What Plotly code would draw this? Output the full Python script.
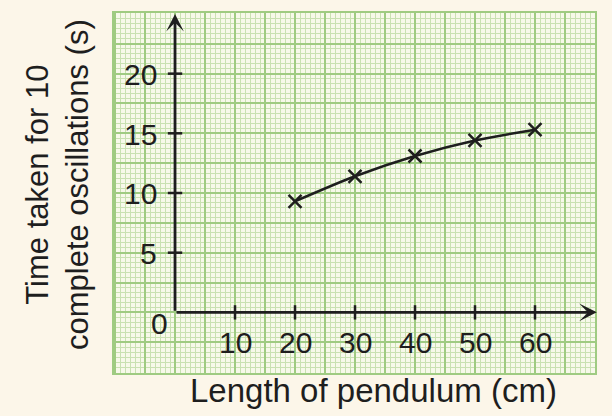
import plotly.graph_objects as go

# Data
lengths = [20, 30, 40, 50, 60]
times = [9.3, 11.4, 13.1, 14.4, 15.3]

x_ticks = [10, 20, 30, 40, 50, 60]
y_ticks = [5, 10, 15, 20]

x_title = "Length of pendulum (cm)"
y_title = "Time taken for 10<br>complete oscillations (s)"

INK = "#1e1e1e"
FONT = "Liberation Sans, Arial, sans-serif"
PAPER = "#fcf6e9"

fig = go.Figure()

# curve with crosses
fig.add_trace(go.Scatter(
    x=lengths, y=times, mode="lines+markers",
    line=dict(color=INK, width=2.5, shape="spline", smoothing=0.8),
    marker=dict(symbol="x-thin", size=13, line=dict(color=INK, width=2.5), color=INK),
    showlegend=False, hoverinfo="skip"))

# tick marks crossing axes
tx, ty = [], []
for v in x_ticks:
    tx += [v, v, None]
    ty += [-0.6, 0.6, None]
for v in y_ticks:
    tx += [-1.2, 1.2, None]
    ty += [v, v, None]
fig.add_trace(go.Scatter(x=tx, y=ty, mode="lines",
                         line=dict(color=INK, width=2.5),
                         showlegend=False, hoverinfo="skip"))

annotations = []
# axes with arrows
annotations.append(dict(x=0, y=25.0, ax=0, ay=0, xref="x", yref="y", axref="x", ayref="y",
                        text="", showarrow=True, arrowhead=3, arrowwidth=2.8, arrowsize=1.05,
                        arrowcolor=INK, standoff=0, startstandoff=0))
annotations.append(dict(x=70.3, y=0, ax=0, ay=0, xref="x", yref="y", axref="x", ayref="y",
                        text="", showarrow=True, arrowhead=3, arrowwidth=2.8, arrowsize=1.05,
                        arrowcolor=INK, standoff=0, startstandoff=0))

# tick labels
for v in x_ticks:
    annotations.append(dict(x=v, y=-2.54, xref="x", yref="y", text=str(v), showarrow=False,
                            xanchor="center", yanchor="middle",
                            font=dict(family=FONT, size=30, color=INK)))
for v in y_ticks:
    annotations.append(dict(x=-2.7, y=v - 0.08, xref="x", yref="y", text=str(v), showarrow=False,
                            xanchor="right", yanchor="middle",
                            font=dict(family=FONT, size=30, color=INK)))
annotations.append(dict(x=-2.67, y=-0.92, xref="x", yref="y", text="0", showarrow=False,
                        xanchor="center", yanchor="middle",
                        font=dict(family=FONT, size=30, color=INK)))

# axis titles
annotations.append(dict(x=(373 - 114) / 481, y=(373 - 391) / 362, xref="paper", yref="paper",
                        text=x_title, showarrow=False, xanchor="center", yanchor="middle",
                        font=dict(family=FONT, size=33, color=INK)))
annotations.append(dict(x=(57 - 114) / 481, y=(373 - 184) / 362, xref="paper", yref="paper",
                        text=y_title, showarrow=False, xanchor="center", yanchor="middle",
                        textangle=-90,
                        font=dict(family=FONT, size=31, color=INK)))

MAJOR = "#9fcb82"
MINOR = "#c9e1b2"

fig.update_layout(
    width=612, height=416,
    margin=dict(l=114, r=17, t=11, b=43),
    paper_bgcolor=PAPER,
    plot_bgcolor="#f7f9ea",
    annotations=annotations,
    xaxis=dict(range=[-10.17, 70.0], tick0=0, dtick=5, showgrid=True, gridcolor=MAJOR, gridwidth=1.6,
               minor=dict(dtick=5 / 6, tick0=0, showgrid=True, gridcolor=MINOR, gridwidth=1),
               showticklabels=False, ticks="", zeroline=False,
               showline=True, mirror=True, linecolor=MAJOR, linewidth=2, fixedrange=True),
    yaxis=dict(range=[-5.08, 25.08], tick0=0, dtick=2.5, showgrid=True, gridcolor=MAJOR, gridwidth=1.6,
               minor=dict(dtick=2.5 / 6, tick0=0, showgrid=True, gridcolor=MINOR, gridwidth=1),
               showticklabels=False, ticks="", zeroline=False,
               showline=True, mirror=True, linecolor=MAJOR, linewidth=2, fixedrange=True),
)

fig.write_html(
    "out.html",
    config={"displayModeBar": False},
    post_script="document.body.style.margin='0';document.body.style.overflow='hidden';"
                "document.body.style.background='" + PAPER + "';",
)
